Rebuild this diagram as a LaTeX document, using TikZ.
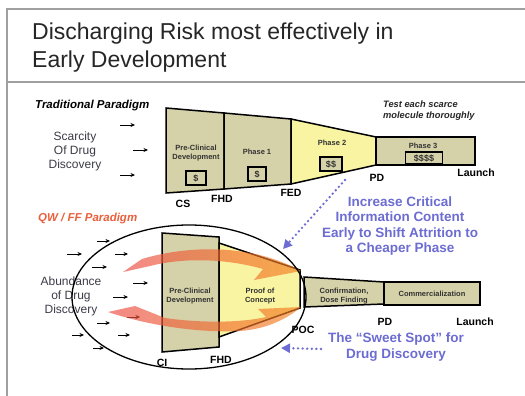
\documentclass[tikz,border=0pt]{standalone}
\usepackage{fontspec}
\setmainfont{Liberation Sans}
\usetikzlibrary{arrows.meta}
\definecolor{khaki}{HTML}{D5D1A8}
\definecolor{paleyellow}{HTML}{F8F4A2}
\definecolor{framegray}{HTML}{A0A0A0}
\definecolor{titletxt}{HTML}{262626}
\definecolor{hintblue}{HTML}{6C6CD2}
\definecolor{qwred}{HTML}{E8603C}
\definecolor{swred}{HTML}{EC4A44}
\definecolor{sworange}{HTML}{F5841F}
\definecolor{labeltxt}{HTML}{333333}
\definecolor{sidetxt}{HTML}{3C3C48}

\begin{document}
\begin{tikzpicture}[x=1pt,y=-1pt,
  frame/.style={draw=framegray, line width=1.2pt},
  titletext/.style={font=\fontsize{23}{26}\selectfont, text=titletxt, inner sep=0pt},
  paradigm/.style={font=\fontsize{11.5}{13}\selectfont\bfseries\itshape, inner sep=0pt},
  sidetext/.style={font=\fontsize{12}{14}\selectfont, text=sidetxt, align=center, inner sep=0pt},
  stage/.style={draw=black, line width=1.5pt, line join=miter, fill=khaki},
  stagehot/.style={stage, fill=paleyellow},
  stagelbl/.style={font=\fontsize{7.5}{8.5}\selectfont\bfseries, text=labeltxt, align=center, inner sep=0pt},
  costbox/.style={draw=black, line width=1.6pt, fill=khaki, inner sep=0pt, minimum height=14,
    font=\fontsize{9}{9}\selectfont\bfseries, text=labeltxt},
  milestone/.style={font=\fontsize{10.5}{12}\selectfont\bfseries, text=black, inner sep=0pt},
  hinttext/.style={font=\fontsize{13.5}{15.3}\selectfont\bfseries, text=hintblue, align=center, inner sep=0pt},
  hint/.style={hintblue, line width=2.6pt, line cap=round, dash pattern=on 0pt off 4.6pt,
    -{Triangle[length=9pt,width=9pt]}},
  feed/.style={-{Stealth[length=4.5pt,width=4pt]}, line width=1pt, black},
  swoosh/.style={left color=swred, right color=sworange, fill opacity=0.66, draw=none}
]
\useasboundingbox (0,0) rectangle (525,396);
\fill[white] (0,0) rectangle (525,396);

% page frame and title rule
\draw[frame] (525,9) -- (7,9) -- (7,396);
\draw[frame] (7,82) -- (525,82);

% title
\node[titletext, anchor=base west] (title1) at (32,40) {Discharging Risk most effectively in};
\node[titletext, anchor=base west] (title2) at (32,67) {Early Development};

% ---------- traditional paradigm ----------
\node[paradigm, anchor=west] (trad) at (35,106) {Traditional Paradigm};
\node[sidetext] (scarcity) at (75,151) {Scarcity\\Of Drug\\Discovery};
\foreach \x/\y in {120/125, 133/150, 120/175}
  \draw[feed] (\x,\y) -- ++(15,0);

% funnel of the classical phases
\draw[stage] (166,108) -- (224,113) -- (224,189) -- (166,193) -- cycle;
\draw[stage] (224,113) -- (291,119) -- (291,184) -- (224,189) -- cycle;
\draw[stagehot] (291,119) -- (376,137) -- (376,165) -- (291,184) -- cycle;
\draw[stage] (376,137) rectangle (475,165);

\node[stagelbl] (tpre) at (196,153) {Pre-Clinical\\Development};
\node[costbox, minimum width=20] (tpreC) at (196,178) {\$};
\node[stagelbl] (tp1) at (257,152) {Phase 1};
\node[costbox, minimum width=18] (tp1C) at (257,174) {\$};
\node[stagelbl] (tp2) at (332,143) {Phase 2};
\node[costbox, minimum width=22] (tp2C) at (331,164) {\$\$};
\node[stagelbl] (tp3) at (423,146) {Phase 3};
\node[costbox, minimum width=37, minimum height=12] (tp3C) at (424,158) {\$\$\$\$};

\node[milestone] (tCS) at (183,204) {CS};
\node[milestone] (tFHD) at (222,199) {FHD};
\node[milestone] (tFED) at (291,193) {FED};
\node[milestone] (tPD) at (377,178) {PD};
\node[milestone] (tLaunch) at (476,173) {Launch};

\node[font=\fontsize{9.3}{11}\selectfont\bfseries\itshape, text=titletxt, align=left,
  inner sep=0pt, anchor=west] (test) at (383,111) {Test each scarce\\molecule thoroughly};

% ---------- QW / FF paradigm ----------
\node[paradigm, text=qwred, anchor=west] (qwff) at (38,219) {QW / FF Paradigm};
\node[sidetext] (abund) at (71,296) {Abundance\\of Drug\\Discovery};
\foreach \x/\y/\l in {97/241/13, 67/254/15, 115/254/13, 92/267/15, 133/283/15, 113/297/15,
                      127/317/13, 97/323/13, 72/335/12, 118/335/12, 93/348/11}
  \draw[feed] (\x,\y) -- ++(\l,0);

% compressed funnel
\draw[stage] (162,233) -- (219,237) -- (219,347) -- (162,352) -- cycle;
\draw[stagehot] (219,243) -- (300,270) -- (300,308) -- (219,337) -- cycle;
\draw[stage] (304,277) -- (384,282) -- (384,304) -- (304,307) -- cycle;
\draw[stage] (384,282) rectangle (480,305);

% feedback swooshes
\shade[swoosh] (301,271) -- (254,280) -- (263,269)
  .. controls (228,259) and (185,257) .. (150,266) -- (123,272) -- (142,259)
  .. controls (172,250) and (207,247) .. (237,251)
  .. controls (263,254) and (285,262) .. cycle;
\shade[swoosh] (301,307) -- (258,309) -- (266,317)
  .. controls (240,323) and (200,323) .. (165,318) -- (135,306) -- (108,312)
  .. controls (150,326) and (200,333) .. (240,331)
  .. controls (268,329) and (288,318) .. cycle;

\node[stagelbl] (bpre) at (190,296) {Pre-Clinical\\Development};
\node[stagelbl] (bpoc) at (260,296) {Proof of\\Concept};
\node[stagelbl] (bconf) at (344,296) {Confirmation,\\Dose Finding};
\node[stagelbl] (bcom) at (432,294) {Commercialization};

\node[milestone] (bCI) at (162,363) {CI};
\node[milestone] (bFHD) at (221,360) {FHD};
\node[milestone] (bPOC) at (303,330) {POC};
\node[milestone] (bPD) at (385,322) {PD};
\node[milestone] (bLaunch) at (475,322) {Launch};

% region of early attrition
\draw[line width=1.3pt, black] (189,297) ellipse [x radius=117, y radius=72];

% callouts
\node[hinttext] (shift) at (400,226)
  {Increase Critical\\Information Content\\Early to Shift Attrition to\\a Cheaper Phase};
\node[hinttext] (sweet) at (396,347) {The “Sweet Spot” for\\Drug Discovery};
\coordinate (shiftFrom) at (345,180);
\coordinate (shiftTo) at (283,249);
\coordinate (sweetFrom) at (321,349);
\coordinate (sweetTo) at (281,348);
\draw[hint] (shiftFrom) -- (shiftTo);
\draw[hint] (sweetFrom) -- (sweetTo);
\end{tikzpicture}
\end{document}
